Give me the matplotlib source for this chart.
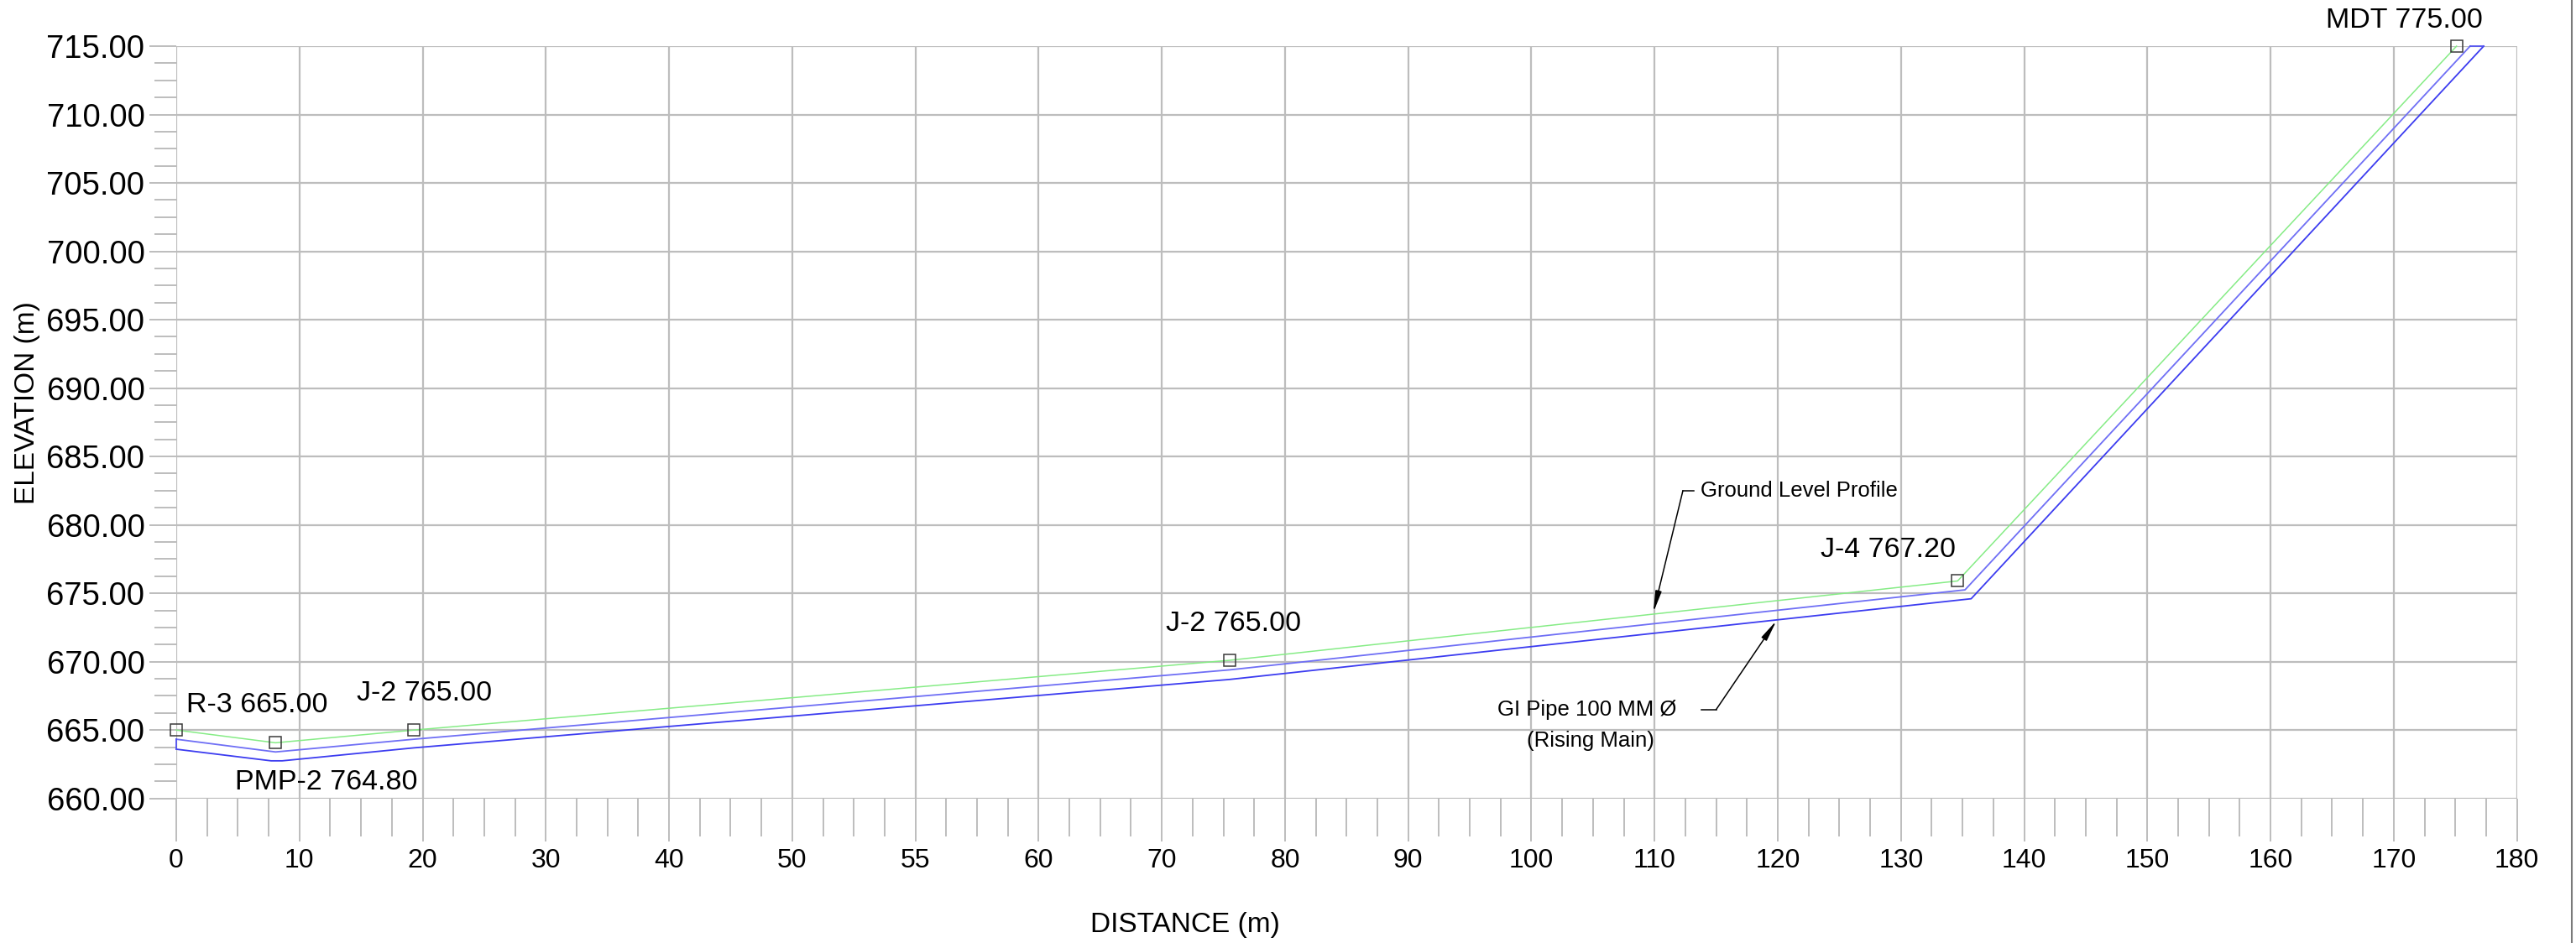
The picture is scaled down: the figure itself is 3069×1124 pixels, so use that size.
import matplotlib
matplotlib.use("Agg")
import matplotlib.pyplot as plt
from matplotlib.lines import Line2D
from matplotlib import font_manager
import numpy as np

# ---------------- data ----------------
x_tick_labels = [0, 10, 20, 30, 40, 50, 55, 60, 70, 80, 90, 100, 110, 120, 130, 140, 150, 160, 170, 180]
y_ticks = [660, 665, 670, 675, 680, 685, 690, 695, 700, 705, 710, 715]

node_names = ["R-3 665.00", "PMP-2 764.80", "J-2 765.00", "J-2 765.00", "J-4 767.20", "MDT 775.00"]
node_x = [0.0, 8.06, 19.3, 85.5, 144.6, 185.1]
node_y = [665.0, 664.07, 665.0, 670.1, 675.9, 715.0]

# label anchors (left edge / vertical centre)
label_x = [0.8, 4.8, 14.65, 80.3, 133.5, 174.5]
label_y = [666.85, 661.2, 667.65, 672.75, 678.15, 716.85]

pipe_top_x = [0.0, 8.06, 19.3, 85.5, 145.2, 186.2]
pipe_top_y = [664.33, 663.4, 664.33, 669.4, 675.25, 715.0]
pipe_bot_x = [0.0, 7.7, 8.6, 19.3, 85.5, 145.7, 187.3]
pipe_bot_y = [663.6, 662.75, 662.75, 663.7, 668.7, 674.6, 715.0]

# ---------------- fonts ----------------
names = {f.name for f in font_manager.fontManager.ttflist}
font = ["Liberation Sans", "Arial", "DejaVu Sans"]
if "Liberation Sans Narrow" in names:
    narrow, nsize = ["Liberation Sans Narrow", "Liberation Sans"], 22
else:
    narrow, nsize = font, 18.5

# ---------------- figure ----------------
W, H = 3069, 1124
fig = plt.figure(figsize=(W / 100, H / 100), dpi=100)
fig.patch.set_facecolor("white")

left, right = 210 / W, 2998.6 / W
bottom, top = 1 - 951.7 / H, 1 - 55 / H
ax = fig.add_axes([left, bottom, right - left, top - bottom])
ax.set_xlim(0, 190)
ax.set_ylim(660, 715)
for s in ax.spines.values():
    s.set_visible(False)

grid_c = "#bdbdbd"
xpos = np.arange(len(x_tick_labels)) * 10
ax.set_xticks(xpos)
ax.set_xticklabels([str(v) for v in x_tick_labels])
ax.set_xticks(np.arange(0, 190, 2.5), minor=True)
ax.set_yticks(y_ticks)
ax.set_yticklabels([f"{v:.2f}" for v in y_ticks])
ax.set_yticks(np.arange(660, 715.01, 1.25), minor=True)

ax.grid(True, which="major", color=grid_c, lw=1.6, zorder=0)
ax.set_axisbelow(True)

ax.tick_params(axis="x", which="major", direction="out", length=36.5, width=1.4,
               color=grid_c, labelsize=23, pad=6)
ax.tick_params(axis="x", which="minor", direction="out", length=32.5, width=1.4,
               color=grid_c)
ax.tick_params(axis="y", which="major", direction="out", length=23, width=1.4,
               color=grid_c, labelsize=27.5, pad=4)
ax.tick_params(axis="y", which="minor", direction="out", length=18.5, width=1.4,
               color=grid_c)

for lab in ax.get_xticklabels() + ax.get_yticklabels():
    lab.set_fontfamily(font)

# profile lines
ax.plot(node_x, node_y, color="#86ec86", lw=1.1, zorder=3, clip_on=False)
ax.plot(pipe_top_x, pipe_top_y, color="#6f6ff5", lw=1.3, zorder=3, clip_on=False)
ax.plot(pipe_bot_x, pipe_bot_y, color="#3c3cf0", lw=1.3, zorder=3, clip_on=False)
# pipe end caps
ax.plot([pipe_top_x[0], pipe_bot_x[0]], [pipe_top_y[0], pipe_bot_y[0]], color="#5050f0", lw=1.3, zorder=3, clip_on=False)
ax.plot([pipe_top_x[-1], pipe_bot_x[-1]], [pipe_top_y[-1], pipe_bot_y[-1]], color="#5050f0", lw=1.3, zorder=3, clip_on=False)

# nodes
ax.plot(node_x, node_y, ls="none", marker="s", ms=10, mfc="none", mec="#3a3a3a",
        mew=1.1, zorder=4, clip_on=False)
for name, lx, ly in zip(node_names, label_x, label_y):
    ax.text(lx, ly, name, fontsize=24.5, family=font, ha="left", va="center",
            color="black", clip_on=False, zorder=5)

# annotations
ax.text(123.7, 682.5, "Ground Level Profile", fontsize=nsize, family=narrow,
        ha="left", va="center", zorder=5)
ax.plot([122.3, 123.2], [682.5, 682.5], color="black", lw=1.1, zorder=5)
ax.annotate("", xy=(119.9, 673.6), xytext=(122.3, 682.5),
            arrowprops=dict(arrowstyle="-|>,head_length=1.5,head_width=0.22",
                            color="black", lw=1.1, shrinkA=0, shrinkB=0), zorder=5)

ax.text(114.5, 666.5, "GI Pipe 100 MM Ø", fontsize=nsize, family=narrow,
        ha="center", va="center", zorder=5)
ax.text(114.8, 664.2, "(Rising Main)", fontsize=nsize, family=narrow,
        ha="center", va="center", zorder=5)
ax.plot([123.8, 125.0], [666.5, 666.5], color="black", lw=1.1, zorder=5)
ax.annotate("", xy=(129.9, 673.0), xytext=(125.0, 666.5),
            arrowprops=dict(arrowstyle="-|>,head_length=1.5,head_width=0.22",
                            color="black", lw=1.1, shrinkA=0, shrinkB=0), zorder=5)

# axis titles
fig.text(1412 / W, 1 - 1102 / H, "DISTANCE (m)", fontsize=24, family=font,
         ha="center", va="center")
fig.text(33 / W, 1 - 480 / H, "ELEVATION (m)", fontsize=24, family=font,
         ha="center", va="center", rotation=90)

# right border of the drawing
fig.add_artist(Line2D([3064 / W, 3064 / W], [0, 1], transform=fig.transFigure,
                      color="#7a7a7a", lw=1.5))

fig.savefig("out.png", dpi=100)
